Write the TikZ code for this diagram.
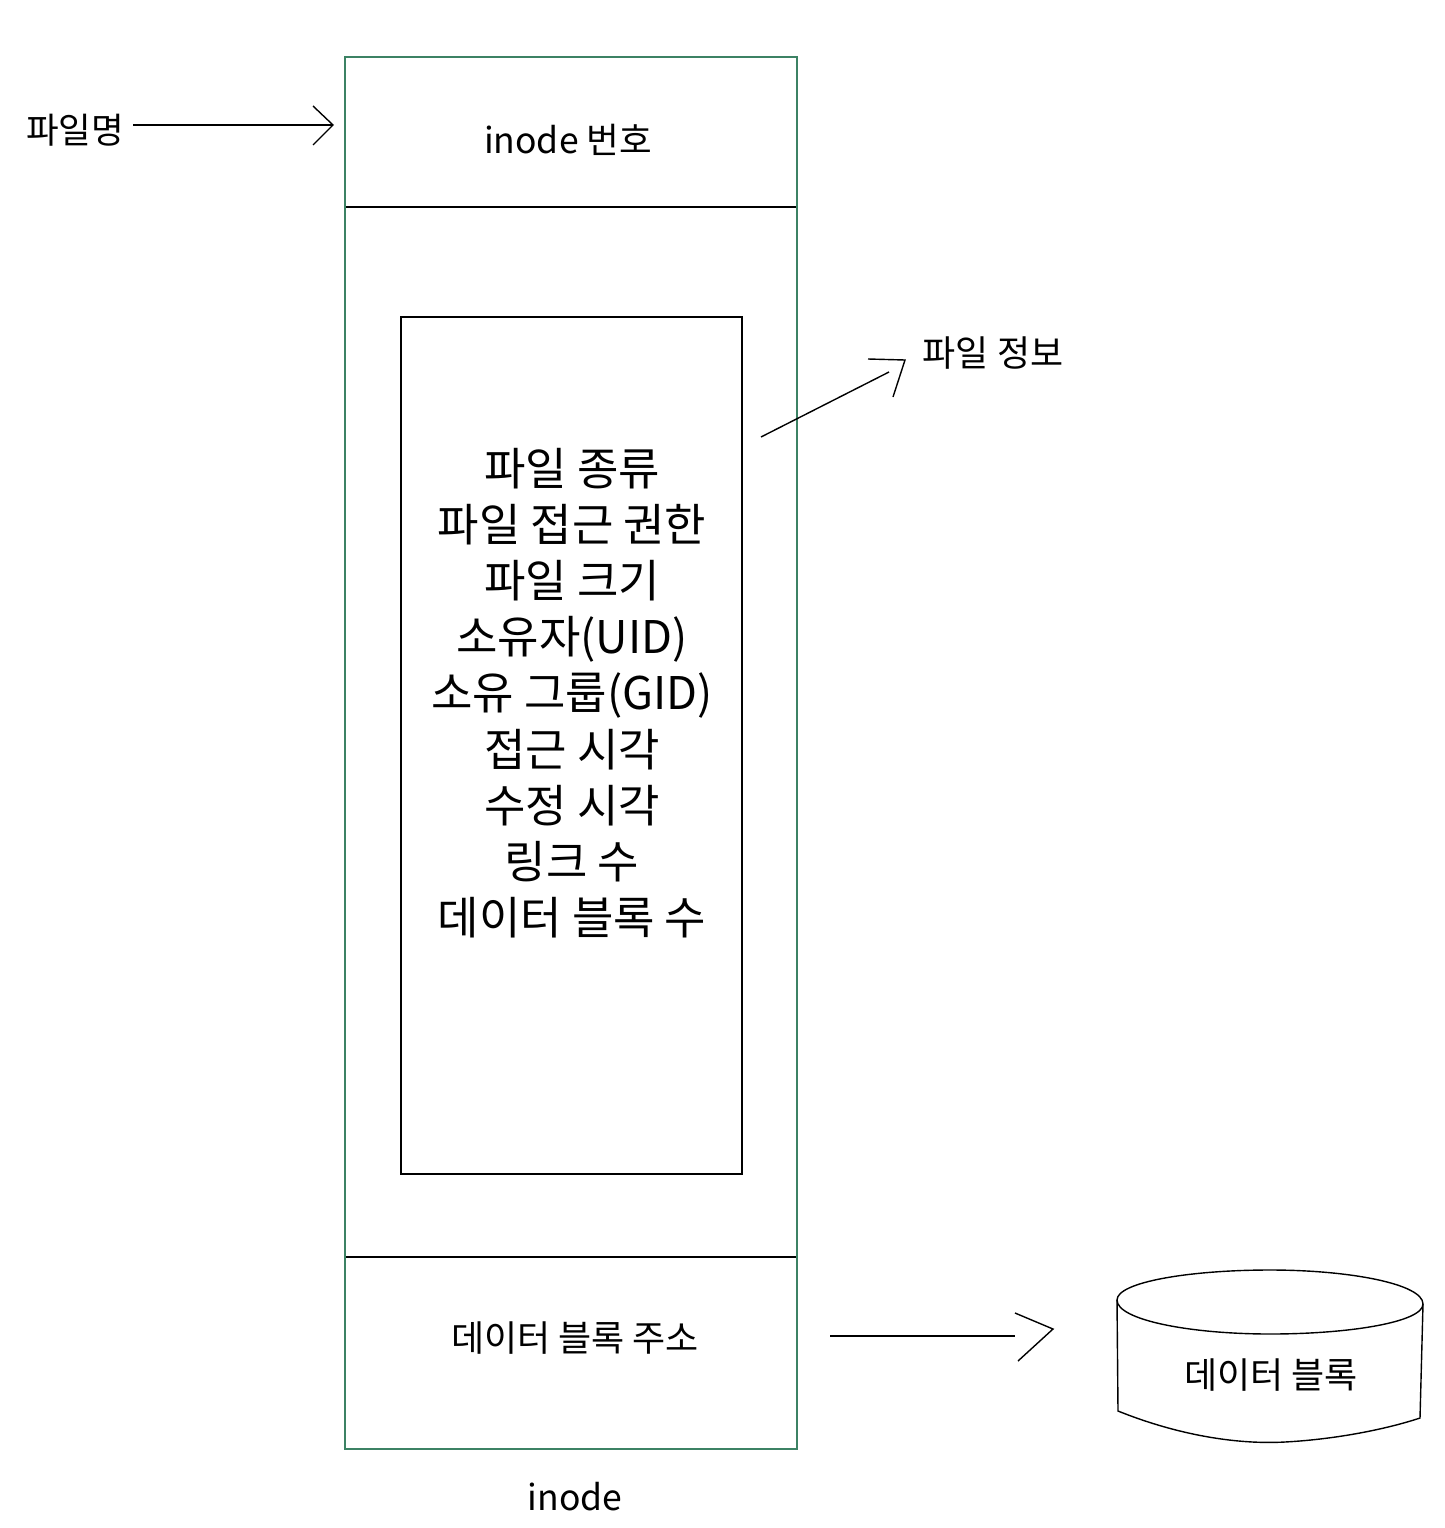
\documentclass[tikz,border=0pt]{standalone}
\usepackage{fontspec}
\setmainfont{Noto Sans CJK KR}
\definecolor{boxgreen}{RGB}{60,130,100}
\begin{document}
\begin{tikzpicture}[x=1pt,y=-1pt,
  line/.style={line width=1.4pt, black},
  gbox/.style={draw=boxgreen, line width=1.4pt},
  lbl/.style={inner sep=0pt, anchor=center},
  mid/.style={font=\fontsize{35.5}{40}\selectfont},
  big/.style={font=\fontsize{36}{40}\selectfont}]
\useasboundingbox (0,0) rectangle (1444,1528);
% outer inode box
\draw[gbox] (345,57) rectangle (797,1449);
\draw[line] (346,207) -- (796,207);
\draw[line] (346,1257) -- (796,1257);
% inner box
\draw[line, line width=1.2pt] (401,317) rectangle (742,1174);
% texts
\node[lbl, mid] (inum) at (568,140) {inode 번호};
\node[lbl, mid] (fname) at (75,130) {파일명};
\node[lbl, big] (finfo) at (993,353) {파일 정보};
\node[lbl, big] (daddr) at (575,1338) {데이터 블록 주소};
\node[lbl, mid] (inodelbl) at (575,1497) {inode};
\node[lbl, align=center, font=\fontsize{45}{56.2}\selectfont] (list) at (572,693)
  {파일 종류\\파일 접근 권한\\파일 크기\\소유자(UID)\\소유 그룹(GID)\\접근 시각\\수정 시각\\링크 수\\데이터 블록 수};
% cylinder
\draw[line] (1117,1300) .. controls (1117,1282) and (1190,1270) .. (1270,1270)
   .. controls (1350,1270) and (1423,1284) .. (1423,1304)
   .. controls (1423,1322) and (1350,1334) .. (1270,1334)
   .. controls (1190,1334) and (1117,1320) .. (1117,1300) -- cycle;
\draw[line] (1117,1300) -- (1118,1411)
   .. controls (1170,1432) and (1230,1445) .. (1285,1442)
   .. controls (1340,1439) and (1390,1428) .. (1420,1418)
   -- (1423,1304);
\node[lbl, big] (dblock) at (1271,1375) {데이터 블록};
% arrows
\coordinate (a1s) at (133,125);
\coordinate (a1e) at (333,125);
\draw[line] (a1s) -- (a1e);
\draw[line] (313,106) -- (a1e) -- (313,145);
\coordinate (a2s) at (761,437);
\coordinate (a2e) at (889,372);
\draw[line] (a2s) -- (a2e);
\coordinate (a2t) at (905,360);
\draw[line] (868,359) -- (a2t) -- (893,397);
\coordinate (a3s) at (830,1336);
\coordinate (a3e) at (1015,1336);
\draw[line] (a3s) -- (a3e);
\coordinate (a3t) at (1053,1329);
\draw[line] (1015,1313) -- (a3t) -- (1018,1361);
\end{tikzpicture}
\end{document}
